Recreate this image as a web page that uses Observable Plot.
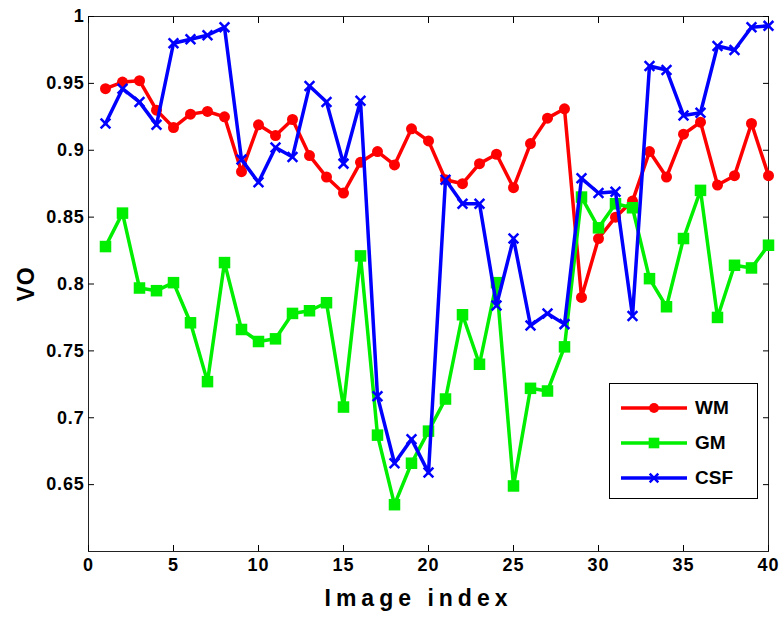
<!DOCTYPE html>
<html>
<head>
<meta charset="utf-8">
<script src="https://cdn.jsdelivr.net/npm/d3@7"></script>
<script src="https://cdn.jsdelivr.net/npm/@observablehq/plot@0.6"></script>
<style>
  html, body { margin: 0; padding: 0; background: #fff; }
  #wrap { position: relative; width: 783px; height: 618px; font-family: "Liberation Sans", Arial, sans-serif; }
  #wrap svg { font-family: "Liberation Sans", Arial, sans-serif; font-weight: bold; }
  #legend { position: absolute; left: 609px; top: 383px; width: 147px; height: 114px; border: 1px solid #000; background: #fff; }
  #legend .row { position: absolute; left: 0; height: 24px; display: flex; align-items: center; }
  #legend .row span { font-weight: bold; font-size: 19px; margin-left: 7px; }
  .xtick { position: absolute; top: 556px; font-weight: bold; font-size: 18px; line-height: 18px; letter-spacing: 1.2px; transform: translateX(-50%); white-space: nowrap; color: #000; }
  .ylab { position: absolute; left: 26px; top: 284px; font-weight: bold; font-size: 23px; line-height: 23px; letter-spacing: 1px; transform: translate(-50%, -50%) rotate(-90deg); white-space: nowrap; color: #000; }
</style>
</head>
<body>
<div id="wrap"></div>
<script>
const imageIndex = d3.range(1, 41);
const wm = [0.946, 0.951, 0.952, 0.930, 0.917, 0.927, 0.929, 0.925, 0.884, 0.919,
            0.911, 0.923, 0.896, 0.880, 0.868, 0.891, 0.899, 0.889, 0.916, 0.907,
            0.878, 0.875, 0.890, 0.897, 0.872, 0.905, 0.924, 0.931, 0.790, 0.834,
            0.850, 0.862, 0.899, 0.880, 0.912, 0.921, 0.874, 0.881, 0.920, 0.881];
const gm = [0.828, 0.853, 0.797, 0.795, 0.801, 0.771, 0.727, 0.816, 0.766, 0.757,
            0.759, 0.778, 0.780, 0.786, 0.708, 0.821, 0.687, 0.635, 0.666, 0.690,
            0.714, 0.777, 0.740, 0.801, 0.649, 0.722, 0.720, 0.753, 0.865, 0.842,
            0.860, 0.857, 0.804, 0.783, 0.834, 0.870, 0.775, 0.814, 0.812, 0.829];
const csf = [0.920, 0.946, 0.936, 0.919, 0.980, 0.983, 0.986, 0.992, 0.893, 0.876,
             0.902, 0.895, 0.948, 0.936, 0.890, 0.937, 0.716, 0.666, 0.684, 0.659,
             0.878, 0.860, 0.860, 0.784, 0.834, 0.769, 0.778, 0.770, 0.879, 0.868,
             0.869, 0.776, 0.963, 0.960, 0.926, 0.928, 0.978, 0.975, 0.992, 0.993];
const seriesNames = ["WM", "GM", "CSF"];
const seriesColors = ["#ff0000", "#00ee00", "#0000ff"];
const xTicks = [0, 5, 10, 15, 20, 25, 30, 35, 40];
const yTicks = [0.65, 0.7, 0.75, 0.8, 0.85, 0.9, 0.95, 1];
const xLabel = "Image index";
const yLabel = "VO";

const rows = (vals) => imageIndex.map((x, i) => ({x, y: vals[i]}));
const dWM = rows(wm), dGM = rows(gm), dCSF = rows(csf);

const fmt = d => String(d);
const chart = Plot.plot({
  width: 783, height: 618,
  marginLeft: 88, marginRight: 15, marginTop: 16, marginBottom: 67,
  style: {background: "#fff", color: "#000", fontSize: "18px"},
  x: {domain: [0, 40]},
  y: {domain: [0.6, 1]},
  marks: [
    Plot.frame({stroke: "#222", strokeWidth: 1}),
    Plot.axisX({anchor: "bottom", ticks: xTicks, tickFormat: () => "", tickSize: -6, label: null}),
    Plot.axisX({anchor: "top", ticks: xTicks, tickFormat: () => "", tickSize: -6, label: null}),
    Plot.axisY({anchor: "left", ticks: yTicks, tickFormat: fmt, tickSize: -6, tickPadding: 10,
      fontSize: 18, fontWeight: "bold", label: null}),
    Plot.axisY({anchor: "right", ticks: yTicks, tickFormat: () => "", tickSize: -6, label: null}),
    Plot.text([xLabel], {frameAnchor: "bottom", lineAnchor: "middle", dy: 47, dx: -10,
      fontSize: 23, fontWeight: "bold"}),
    Plot.line(dWM, {x: "x", y: "y", stroke: seriesColors[0], strokeWidth: 3.5}),
    Plot.dot(dWM, {x: "x", y: "y", fill: seriesColors[0], r: 5.5, symbol: "circle"}),
    Plot.line(dGM, {x: "x", y: "y", stroke: seriesColors[1], strokeWidth: 3.5}),
    Plot.dot(dGM, {x: "x", y: "y", fill: seriesColors[1], r: 6.5, symbol: "square"}),
    Plot.line(dCSF, {x: "x", y: "y", stroke: seriesColors[2], strokeWidth: 3.5}),
    Plot.dot(dCSF, {x: "x", y: "y", stroke: seriesColors[2], r: 4.5, strokeWidth: 2.5, symbol: "times"})
  ]
});
const wrap = document.getElementById("wrap");
wrap.appendChild(chart);

// letter spacing for the bold MATLAB-style labels
d3.select(chart).selectAll("text").each(function () {
  const t = this.textContent;
  if (t === xLabel) this.style.letterSpacing = "5px";
  else if (yTicks.map(fmt).includes(t)) this.style.letterSpacing = "0.8px";
});

// x tick labels placed with Plot's own x scale
const xScale = chart.scale("x");
xTicks.forEach(t => {
  const s = document.createElement("div");
  s.className = "xtick";
  s.style.left = (xScale.apply(t) + 0.6) + "px";
  s.textContent = fmt(t);
  wrap.appendChild(s);
});

// y axis title
const yl = document.createElement("div");
yl.className = "ylab";
yl.textContent = yLabel;
wrap.appendChild(yl);

// Legend (HTML overlay)
const legend = document.createElement("div");
legend.id = "legend";
const symbols = ["circle", "square", "times"];
seriesNames.forEach((name, i) => {
  const row = document.createElement("div");
  row.className = "row";
  row.style.top = (12 + i * 35) + "px";
  const ns = "http://www.w3.org/2000/svg";
  const s = document.createElementNS(ns, "svg");
  s.setAttribute("width", 78); s.setAttribute("height", 24);
  const ln = document.createElementNS(ns, "line");
  ln.setAttribute("x1", 11); ln.setAttribute("x2", 77); ln.setAttribute("y1", 12); ln.setAttribute("y2", 12);
  ln.setAttribute("stroke", seriesColors[i]); ln.setAttribute("stroke-width", 3.5);
  s.appendChild(ln);
  const p = document.createElementNS(ns, "path");
  const sym = symbols[i];
  if (sym === "circle") {
    p.setAttribute("d", d3.symbol(d3.symbolCircle, Math.PI * 5 * 5)());
    p.setAttribute("fill", seriesColors[i]);
  } else if (sym === "square") {
    p.setAttribute("d", d3.symbol(d3.symbolSquare, Math.PI * 6 * 6)());
    p.setAttribute("fill", seriesColors[i]);
  } else {
    p.setAttribute("d", d3.symbol(d3.symbolTimes, Math.PI * 4 * 4)());
    p.setAttribute("fill", "none"); p.setAttribute("stroke", seriesColors[i]); p.setAttribute("stroke-width", 2.5);
  }
  p.setAttribute("transform", "translate(44,12)");
  s.appendChild(p);
  row.appendChild(s);
  const t = document.createElement("span");
  t.textContent = name;
  row.appendChild(t);
  legend.appendChild(row);
});
wrap.appendChild(legend);
</script>
</body>
</html>
